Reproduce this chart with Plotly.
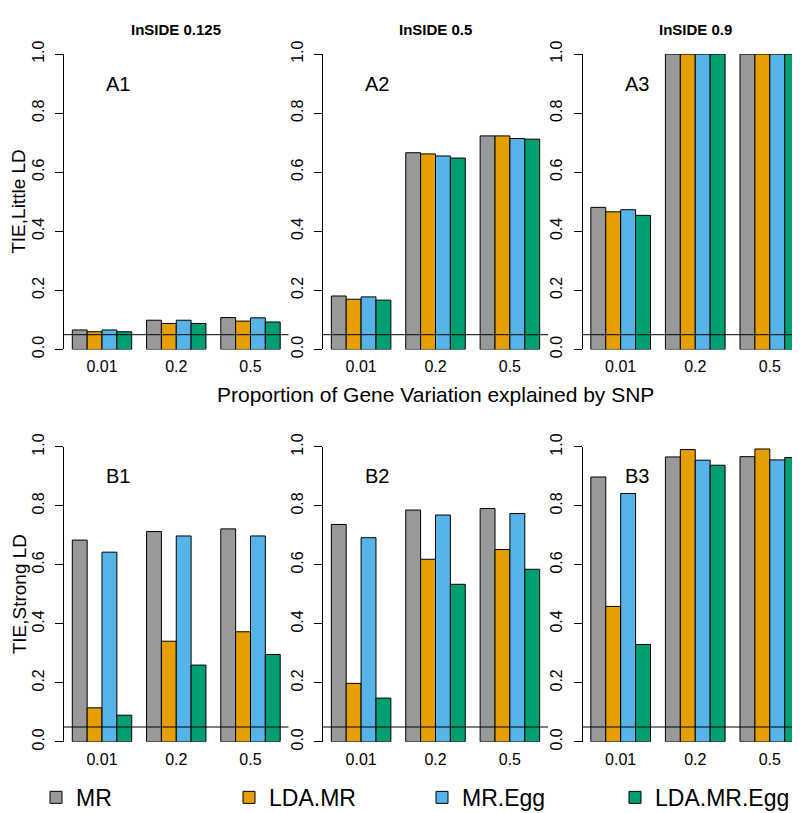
import plotly.graph_objects as go

# ---------------- data ----------------
categories = ["0.01", "0.2", "0.5"]
methods = ["MR", "LDA.MR", "MR.Egg", "LDA.MR.Egg"]
colors = ["#999999", "#E69F00", "#56B4E9", "#009E73"]
col_titles = ["InSIDE 0.125", "InSIDE 0.5", "InSIDE 0.9"]
row_titles = ["TIE,Little LD", "TIE,Strong LD"]
panel_labels = [["A1", "A2", "A3"], ["B1", "B2", "B3"]]
y_ticks = [0.0, 0.2, 0.4, 0.6, 0.8, 1.0]
ref_level = 0.05

# values[panel][method] -> list over categories
A1 = {"MR": [0.066, 0.099, 0.108], "LDA.MR": [0.060, 0.088, 0.096],
      "MR.Egg": [0.066, 0.099, 0.107], "LDA.MR.Egg": [0.060, 0.088, 0.093]}
A2 = {"MR": [0.181, 0.666, 0.723], "LDA.MR": [0.170, 0.662, 0.723],
      "MR.Egg": [0.178, 0.655, 0.714], "LDA.MR.Egg": [0.167, 0.648, 0.712]}
A3 = {"MR": [0.481, 1.0, 1.0], "LDA.MR": [0.466, 1.0, 1.0],
      "MR.Egg": [0.473, 1.0, 1.0], "LDA.MR.Egg": [0.454, 1.0, 1.0]}
B1 = {"MR": [0.684, 0.713, 0.722], "LDA.MR": [0.115, 0.341, 0.373],
      "MR.Egg": [0.643, 0.698, 0.698], "LDA.MR.Egg": [0.090, 0.260, 0.296]}
B2 = {"MR": [0.737, 0.786, 0.791], "LDA.MR": [0.198, 0.619, 0.652],
      "MR.Egg": [0.692, 0.769, 0.774], "LDA.MR.Egg": [0.148, 0.534, 0.585]}
B3 = {"MR": [0.898, 0.966, 0.967], "LDA.MR": [0.459, 0.991, 0.993],
      "MR.Egg": [0.842, 0.955, 0.956], "LDA.MR.Egg": [0.330, 0.938, 0.964]}
panels = [[A1, A2, A3], [B1, B2, B3]]

# ---------------- layout geometry (pixels) ----------------
W, H = 800, 813
col_px = [(56, 280.5), (315, 540), (574.5, 800)]
row_px = [(33, 337), (437.3, 740.7)]   # (top, bottom) for y=1 and y=0
FONT = "Liberation Sans, Arial, sans-serif"

fig = go.Figure()
layout_axes = {}
annotations = []
shapes = []

k = 0
for r in range(2):
    for c in range(3):
        k += 1
        xa = "x" if k == 1 else f"x{k}"
        ya = "y" if k == 1 else f"y{k}"
        xkey = "xaxis" if k == 1 else f"xaxis{k}"
        ykey = "yaxis" if k == 1 else f"yaxis{k}"
        data = panels[r][c]
        for m, col in zip(methods, colors):
            fig.add_trace(go.Bar(
                x=list(range(len(categories))), y=data[m], name=m,
                marker=dict(color=col, line=dict(color="#000000", width=1)),
                xaxis=xa, yaxis=ya, showlegend=(k == 1), legendgroup=m,
                hoverinfo="y"))
        x0, x1 = col_px[c]
        ytop, ybot = row_px[r]
        layout_axes[xkey] = dict(
            domain=[x0 / W, x1 / W], range=[-0.512, 2.512], anchor=ya,
            tickvals=list(range(len(categories))), ticktext=categories,
            showline=False, ticks="", showgrid=False, zeroline=False,
            tickfont=dict(size=16, color="#000000", family=FONT),
            ticklabelstandoff=6, fixedrange=True)
        layout_axes[ykey] = dict(
            domain=[(H - ybot) / H, (H - ytop) / H], range=[0, 1], anchor=xa,
            tickvals=y_ticks, ticktext=[f"{v:.1f}" for v in y_ticks],
            tickangle=-90, ticks="outside", ticklen=8, tickcolor="#000000",
            showline=True, linecolor="#000000", linewidth=1,
            showgrid=False, zeroline=False,
            tickfont=dict(size=16, color="#000000", family=FONT),
            ticklabelstandoff=5, fixedrange=True)
        shapes.append(dict(type="line", xref=f"{xa} domain", yref=ya,
                           x0=0, x1=1, y0=ref_level, y1=ref_level,
                           line=dict(color="#000000", width=1)))
        annotations.append(dict(x=0.22, y=0.9, xref=xa, yref=ya,
                                text=panel_labels[r][c], showarrow=False,
                                font=dict(size=20, color="#000000", family=FONT),
                                xanchor="center", yanchor="middle"))

# column titles
for c in range(3):
    x0, x1 = col_px[c]
    annotations.append(dict(x=(x0 + x1) / 2 / W, y=(H - 8) / H, xref="paper", yref="paper",
                            text=f"<b>{col_titles[c]}</b>", showarrow=False,
                            font=dict(size=15, color="#000000", family=FONT),
                            xanchor="center", yanchor="middle"))
# row titles
for r in range(2):
    ytop, ybot = row_px[r]
    annotations.append(dict(x=11 / W, y=(H - (ytop + ybot) / 2) / H, xref="paper", yref="paper",
                            text=row_titles[r], showarrow=False, textangle=-90,
                            font=dict(size=19, color="#000000", family=FONT),
                            xanchor="center", yanchor="middle"))
# x title
annotations.append(dict(x=(col_px[1][0] + col_px[1][1]) / 2 / W, y=(H - 383) / H,
                        xref="paper", yref="paper",
                        text="Proportion of Gene Variation explained by SNP", showarrow=False,
                        font=dict(size=21, color="#000000", family=FONT),
                        xanchor="center", yanchor="middle"))

fig.update_layout(
    width=W, height=H, margin=dict(l=0, r=0, t=0, b=0),
    paper_bgcolor="white", plot_bgcolor="white",
    barmode="group", bargap=0.2, bargroupgap=0,
    font=dict(family=FONT, color="#000000"),
    showlegend=True,
    legend=dict(orientation="h", x=38 / W, y=(H - 798) / H, xanchor="left", yanchor="middle",
                entrywidth=148, entrywidthmode="pixels",
                font=dict(size=23, color="#000000", family=FONT),
                bgcolor="rgba(0,0,0,0)", traceorder="normal"),
    annotations=annotations, shapes=shapes,
    **layout_axes)

fig.write_html("out.html")
